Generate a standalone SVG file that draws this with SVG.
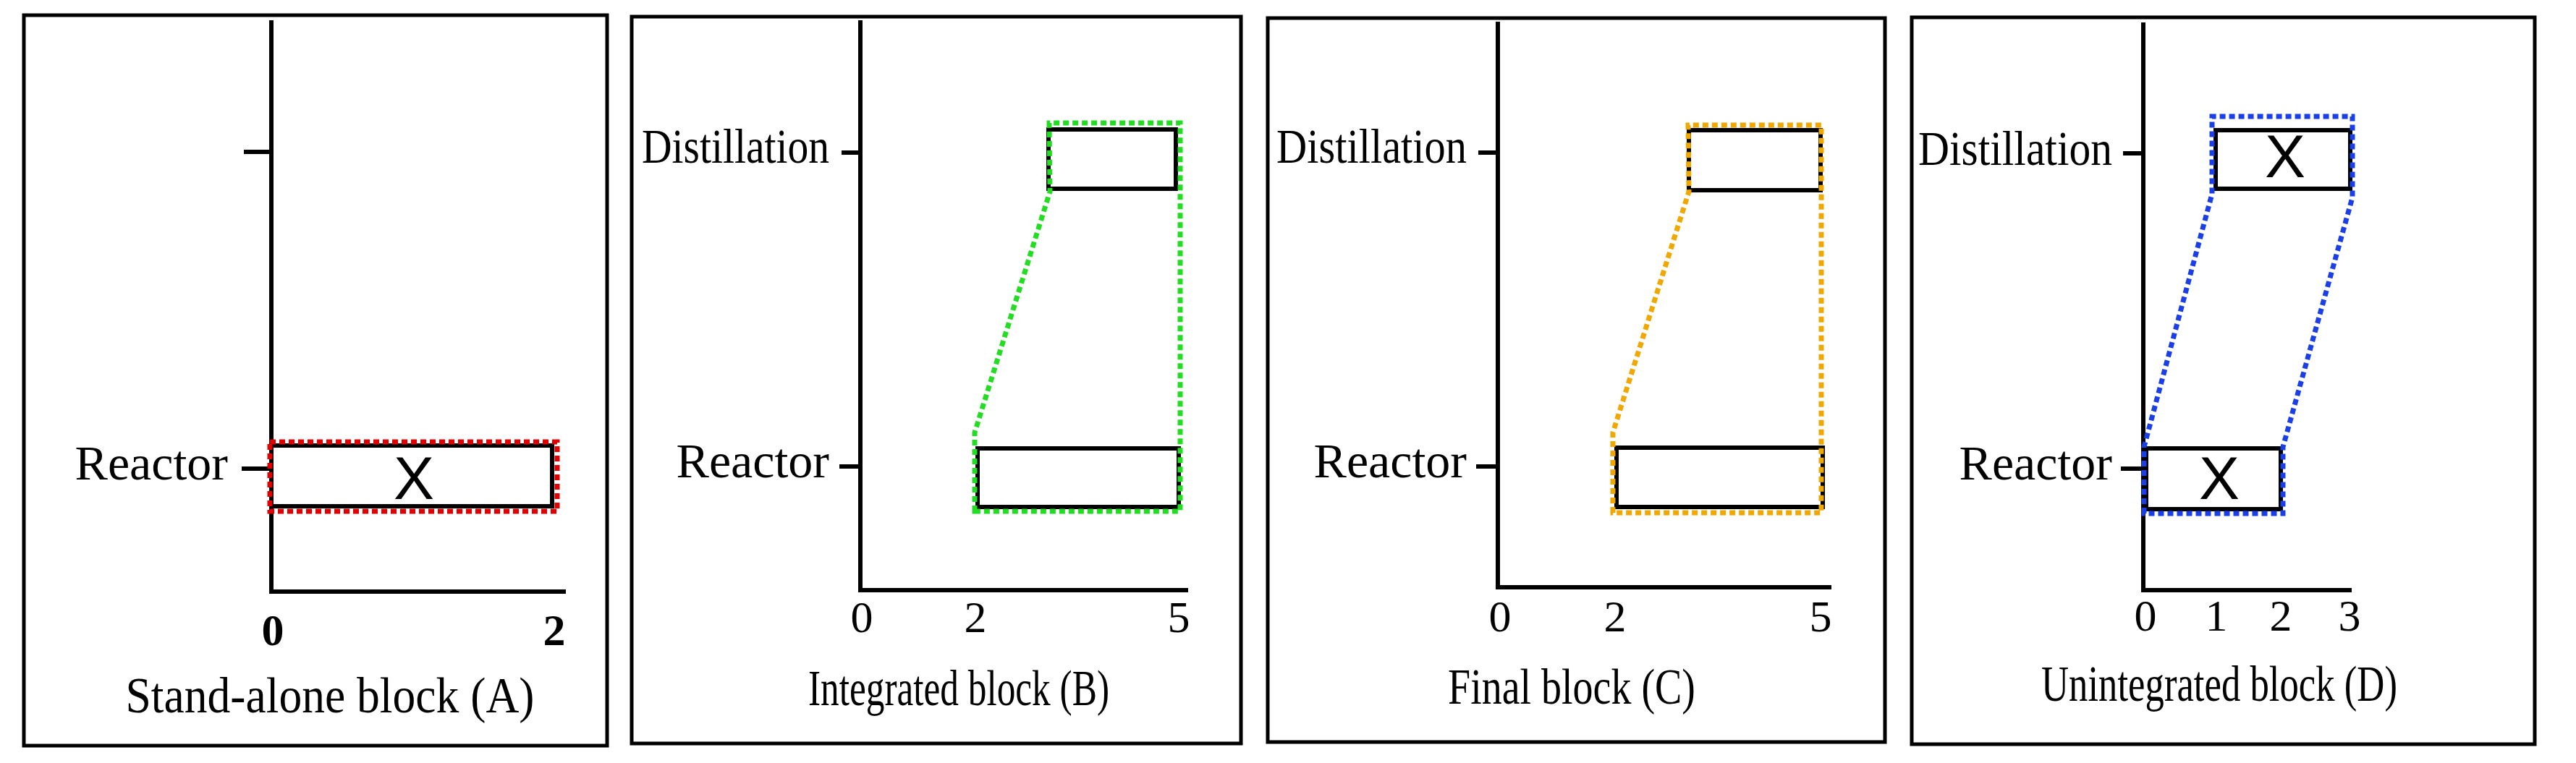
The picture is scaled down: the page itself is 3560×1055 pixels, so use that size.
<svg xmlns="http://www.w3.org/2000/svg" width="3560" height="1055" viewBox="0 0 3560 1055">
<style>
.frame{fill:none;stroke:#000;stroke-width:5}
.ax{fill:none;stroke:#000;stroke-width:6}
.blk{fill:#fff;stroke:#000;stroke-width:6}
.dot{fill:none;stroke-width:7;stroke-dasharray:8 5}
.lbl{font-family:"Liberation Serif",serif;font-size:68px;fill:#000;text-anchor:end}
.tk{font-family:"Liberation Serif",serif;font-size:62px;fill:#000;text-anchor:middle}
.ttl{font-family:"Liberation Serif",serif;font-size:70px;fill:#000;text-anchor:middle}
.x{font-family:"Liberation Sans",sans-serif;font-size:84px;fill:#000;text-anchor:middle}
</style>
<rect width="3560" height="1055" fill="#fff"/>
<g id="panelA">
<rect class="frame" x="33" y="21" width="806" height="1010"/>
<path class="ax" d="M375 28V818H782M337 210H375M334 648H375"/>
<rect class="blk" x="375" y="616" width="388" height="84"/>
<rect class="dot" x="373" y="611" width="397" height="96" stroke="#e00000"/>
<text class="x" x="572" y="690">X</text>
<text class="lbl" x="315" y="663">Reactor</text>
<text class="tk" x="377" y="892" font-weight="bold" font-size="66">0</text>
<text class="tk" x="766" y="892" font-weight="bold" font-size="66">2</text>
<text class="ttl" x="456" y="985" textLength="565" lengthAdjust="spacingAndGlyphs">Stand-alone block (A)</text>
</g>
<g id="panelB">
<rect class="frame" x="873" y="23" width="842" height="1005"/>
<path class="ax" d="M1189 28V816H1642M1163 211H1189M1160 645H1189"/>
<rect class="blk" x="1449" y="179" width="176" height="82"/>
<rect class="blk" x="1351" y="620" width="278" height="81"/>
<polygon class="dot" stroke="#22dd22" points="1347,707 1347,598 1451,265 1450,170 1631,170 1631,707"/>
<text class="lbl" x="1146" y="225" textLength="259" lengthAdjust="spacingAndGlyphs">Distillation</text>
<text class="lbl" x="1146" y="660">Reactor</text>
<text class="tk" x="1191" y="874">0</text>
<text class="tk" x="1348" y="874">2</text>
<text class="tk" x="1629" y="874">5</text>
<text class="ttl" x="1325" y="975" textLength="416" lengthAdjust="spacingAndGlyphs">Integrated block (B)</text>
</g>
<g id="panelC">
<rect class="frame" x="1752" y="25" width="853" height="1001"/>
<path class="ax" d="M2070 30V812H2531M2043 211H2070M2040 645H2070"/>
<rect class="blk" x="2334" y="180" width="182" height="83"/>
<rect class="blk" x="2234" y="619" width="285" height="82"/>
<polygon class="dot" stroke="#f0a800" points="2229,709 2229,598 2334,265 2333,173 2517,173 2517,709"/>
<text class="lbl" x="2027" y="225" textLength="263" lengthAdjust="spacingAndGlyphs">Distillation</text>
<text class="lbl" x="2027" y="660">Reactor</text>
<text class="tk" x="2073" y="873">0</text>
<text class="tk" x="2232" y="873">2</text>
<text class="tk" x="2516" y="873">5</text>
<text class="ttl" x="2172" y="973" textLength="342" lengthAdjust="spacingAndGlyphs">Final block (C)</text>
</g>
<g id="panelD">
<rect class="frame" x="2642" y="24" width="861" height="1005"/>
<path class="ax" d="M2962 31V816H3250M2934 212H2962M2931 648H2962"/>
<rect class="blk" x="3062" y="180" width="186" height="81"/>
<rect class="blk" x="2966" y="620" width="186" height="84"/>
<polygon class="dot" stroke="#1a3ee8" points="2963,710 2963,618 3057,268 3057,161 3251,161 3251,273 3155,618 3155,710"/>
<text class="x" x="3158" y="245">X</text>
<text class="x" x="3067" y="690">X</text>
<text class="lbl" x="2919" y="228" textLength="268" lengthAdjust="spacingAndGlyphs">Distillation</text>
<text class="lbl" x="2919" y="663">Reactor</text>
<text class="tk" x="2965" y="872">0</text>
<text class="tk" x="3063" y="872">1</text>
<text class="tk" x="3152" y="872">2</text>
<text class="tk" x="3247" y="872">3</text>
<text class="ttl" x="3067" y="969" textLength="492" lengthAdjust="spacingAndGlyphs">Unintegrated block (D)</text>
</g>
</svg>
